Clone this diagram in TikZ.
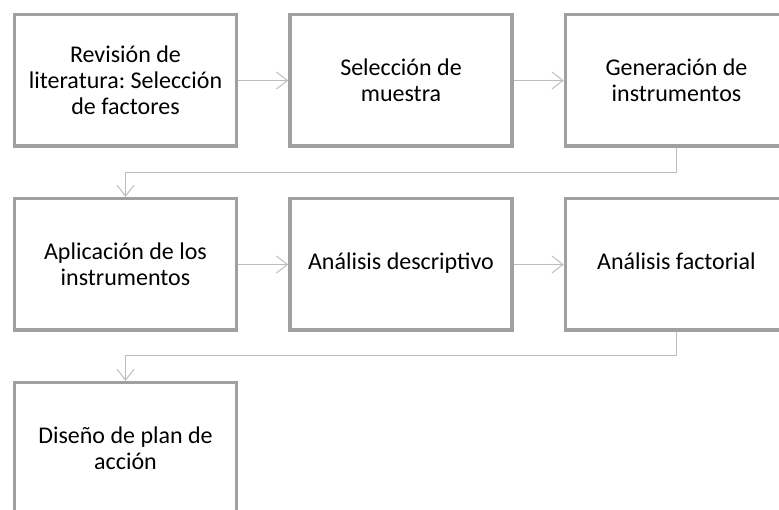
\documentclass[tikz,border=0pt]{standalone}
\usepackage{fontspec}
\setmainfont{Carlito}
\usetikzlibrary{positioning,arrows.meta}
\definecolor{borde}{HTML}{A0A0A0}
\definecolor{linea}{HTML}{BDBDBD}
\frenchspacing

\begin{document}
\begin{tikzpicture}[x=1pt,y=-1pt,
	paso/.style={draw=borde, line width=3.5pt, fill=white, minimum width=222pt, minimum height=131.5pt,
		align=center, font=\fontsize{24}{26}\selectfont},
	unalinea/.style={text height=17pt, text depth=6pt},
	flecha/.style={draw=linea, line width=1pt, -{Straight Barb[length=11pt,width=17pt]}}]
\useasboundingbox (0,0) rectangle (779,510);
\clip (0,0) rectangle (779,510);
% fila 1
\node[paso] (revision) at (125.5,80.5) {Revisión de\\literatura: Selección\\de factores};
\node[paso, right=50pt of revision] (muestra) {Selección de\\muestra};
\node[paso, right=50pt of muestra] (generacion) {Generación de\\instrumentos};
% fila 2
\node[paso, below=49pt of revision] (aplicacion) {Aplicación de los\\instrumentos};
\node[paso, unalinea, right=50pt of aplicacion] (descriptivo) {Análisis descriptivo};
\node[paso, unalinea, right=50pt of descriptivo] (factorial) {Análisis factorial};
% fila 3
\node[paso, below=49pt of aplicacion] (plan) {Diseño de plan de\\acción};
% conectores
\draw[flecha] (revision) -- (muestra);
\draw[flecha] (muestra) -- (generacion);
\draw[flecha] (aplicacion) -- (descriptivo);
\draw[flecha] (descriptivo) -- (factorial);
\draw[flecha] (generacion.south) -- ++(0,25) -| (aplicacion.north);
\draw[flecha] (factorial.south) -- ++(0,24) -| (plan.north);
\end{tikzpicture}
\end{document}
